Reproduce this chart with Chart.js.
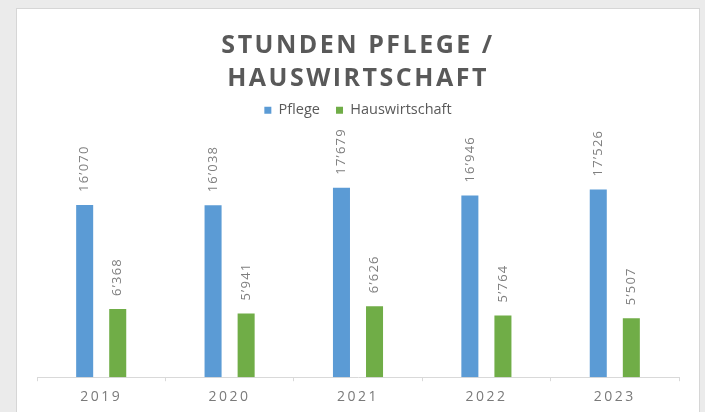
<!DOCTYPE html>
<html>
<head>
<meta charset="utf-8">
<script src="https://cdn.jsdelivr.net/npm/chart.js@4.4.1/dist/chart.umd.min.js"></script>
<style>
  html, body { margin: 0; padding: 0; background: #ebebeb; }
  #panel {
    position: absolute; left: 16px; top: 8px;
    width: 682px; height: 410px;
    background: #fff; border: 1px solid #d6d6d6;
  }
  #wrap { position: absolute; left: 0; top: 0; width: 682px; height: 403px; }
</style>
</head>
<body>
<div id="panel"><div id="wrap"><canvas id="chart"></canvas></div></div>
<script>
const years = ["2019", "2020", "2021", "2022", "2023"];
const pflege = [16070, 16038, 17679, 16946, 17526];
const hauswirtschaft = [6368, 5941, 6626, 5764, 5507];
const titleLines = ["STUNDEN PFLEGE /", "HAUSWIRTSCHAFT"];

const fmt = (v) => String(v).replace(/\B(?=(\d{3})+(?!\d))/g, "\u2019");

// letter spacing for title and x axis labels (wraps the draw method)
function spaced(box, method, sp) {
  if (!box || box["_sp_" + method]) return;
  const fn = box[method];
  box[method] = function (...args) {
    const c = this.ctx;
    const old = c.letterSpacing;
    c.letterSpacing = sp;
    fn.apply(this, args);
    c.letterSpacing = old;
  };
  box["_sp_" + method] = true;
}

const spacingPlugin = {
  id: "spacing",
  beforeDraw(chart) {
    spaced(chart.titleBlock, "draw", "2.5px");
    spaced(chart.scales.x, "drawLabels", "2.5px");
  }
};

const valueLabels = {
  id: "valueLabels",
  afterDatasetsDraw(chart) {
    const ctx = chart.ctx;
    ctx.save();
    ctx.font = "13px 'Open Sans'";
    ctx.letterSpacing = "1.2px";
    ctx.fillStyle = "#7f7f7f";
    ctx.textAlign = "left";
    ctx.textBaseline = "middle";
    chart.data.datasets.forEach((ds, i) => {
      chart.getDatasetMeta(i).data.forEach((bar, j) => {
        ctx.save();
        ctx.translate(bar.x, bar.y - 13);
        ctx.rotate(-Math.PI / 2);
        ctx.fillText(fmt(ds.data[j]), 0, 0);
        ctx.restore();
      });
    });
    ctx.restore();
  }
};

new Chart(document.getElementById("chart"), {
  type: "bar",
  data: {
    labels: years,
    datasets: [
      { label: "Pflege", data: pflege, backgroundColor: "#5b9bd5" },
      { label: "Hauswirtschaft", data: hauswirtschaft, backgroundColor: "#70ad47" }
    ]
  },
  options: {
    responsive: true,
    maintainAspectRatio: false,
    animation: false,
    categoryPercentage: 0.515,
    barPercentage: 0.515,
    layout: { padding: { left: 20, right: 20, top: 0, bottom: 0 } },
    plugins: {
      title: {
        display: true,
        text: titleLines,
        color: "#595959",
        font: { family: "'Open Sans'", size: 25, weight: "bold", lineHeight: 33 / 25 },
        padding: { top: 20, bottom: -8 }
      },
      legend: {
        position: "top",
        labels: {
          boxWidth: 7,
          boxHeight: 7,
          padding: 16,
          color: "#595959",
          font: { family: "'Open Sans'", size: 14.5 }
        }
      },
      tooltip: { enabled: false }
    },
    scales: {
      x: {
        grid: { drawOnChartArea: false, drawTicks: true, tickLength: 4, color: "#d9d9d9" },
        border: { color: "#d9d9d9" },
        ticks: { color: "#7a7a7a", padding: 7, font: { family: "'Open Sans'", size: 14 } }
      },
      y: {
        display: false,
        min: 0,
        max: 23300
      }
    }
  },
  plugins: [spacingPlugin, valueLabels]
});
</script>
</body>
</html>
